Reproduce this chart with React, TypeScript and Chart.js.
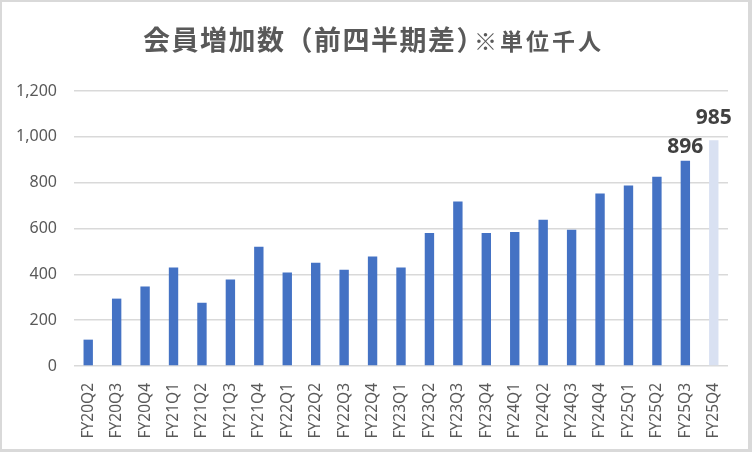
import React, { useEffect, useRef } from "react";
import { Chart, registerables } from "chart.js";

Chart.register(...registerables);

const categories = [
  "FY20Q2", "FY20Q3", "FY20Q4", "FY21Q1", "FY21Q2", "FY21Q3", "FY21Q4",
  "FY22Q1", "FY22Q2", "FY22Q3", "FY22Q4", "FY23Q1", "FY23Q2", "FY23Q3",
  "FY23Q4", "FY24Q1", "FY24Q2", "FY24Q3", "FY24Q4", "FY25Q1", "FY25Q2",
  "FY25Q3", "FY25Q4",
];
const memberIncrease = [
  115, 294, 347, 430, 276, 377, 520, 408, 451, 420, 478, 430, 580, 718,
  580, 585, 638, 595, 753, 788, 826, 896, 985,
];
const labeledIndexes = [21, 22];
const titleMain = "会員増加数（前四半期差）";
const titleSub = "※単位千人";
const yTicks = [0, 200, 400, 600, 800, 1000, 1200];

const BAR = "#4472C4";
const BAR_LIGHT = "#D9E1F2";
const TEXT = "#595959";
const GRID = "#D9D9D9";

const framePlugin = {
  id: "frame",
  afterDraw(chart: any) {
    const { ctx, width, height } = chart;
    ctx.save();
    ctx.fillStyle = GRID;
    ctx.fillRect(0, 0, width, 2);
    ctx.fillRect(0, 0, 2, height);
    ctx.fillRect(width - 4, 0, 4, height);
    ctx.fillRect(0, height - 3, width, 3);
    ctx.restore();
  },
};

const titlePlugin = {
  id: "twoPartTitle",
  afterDraw(chart: any) {
    const { ctx, width } = chart;
    ctx.save();
    ctx.fillStyle = TEXT;
    ctx.textBaseline = "alphabetic";
    ctx.textAlign = "left";
    const x0 = width / 2 - 233;
    ctx.font = 'bold 27px "Noto Sans CJK JP"';
    (ctx as any).letterSpacing = "1.5px";
    ctx.fillText(titleMain, x0, 50);
    ctx.font = 'bold 23px "Noto Sans CJK JP"';
    (ctx as any).letterSpacing = "3px";
    ctx.fillText(titleSub, x0 + 331, 50);
    (ctx as any).letterSpacing = "0px";
    ctx.restore();
  },
};

const valueLabelPlugin = {
  id: "valueLabels",
  afterDatasetsDraw(chart: any) {
    const { ctx } = chart;
    const meta = chart.getDatasetMeta(0);
    const ds = chart.data.datasets[0];
    ctx.save();
    ctx.font = 'bold 21px "Noto Sans"';
    ctx.fillStyle = "#404040";
    ctx.textAlign = "center";
    ctx.textBaseline = "alphabetic";
    labeledIndexes.forEach((i, k) => {
      const el = meta.data[i];
      if (!el) return;
      const gap = k === labeledIndexes.length - 1 ? 16 : 8;
      ctx.fillText(String(ds.data[i]), el.x, el.y - gap);
    });
    ctx.restore();
  },
};

export default function App() {
  const ref = useRef<HTMLCanvasElement>(null);
  useEffect(() => {
    document.body.style.margin = "0";
    const canvas = ref.current;
    if (!canvas) return;
    const chart = new Chart(canvas, {
      type: "bar",
      data: {
        labels: categories,
        datasets: [
          {
            data: memberIncrease,
            backgroundColor: memberIncrease.map((_, i) =>
              i === memberIncrease.length - 1 ? BAR_LIGHT : BAR
            ),
            borderWidth: 0,
            barPercentage: 0.33,
            categoryPercentage: 1,
          },
        ],
      },
      options: {
        animation: false,
        responsive: false,
        devicePixelRatio: 1,
        layout: { padding: { top: 91, right: 24, left: 0, bottom: 0 } },
        plugins: {
          legend: { display: false },
          title: { display: false },
          tooltip: { enabled: false },
        },
        scales: {
          x: {
            grid: { display: false },
            border: { display: false },
            ticks: {
              color: TEXT,
              font: { family: "Noto Sans", size: 15.5 },
              minRotation: 90,
              maxRotation: 90,
              padding: 9,
              autoSkip: false,
            },
            afterFit(scale: any) {
              scale.height = 86;
            },
          },
          y: {
            min: 0,
            max: 1200,
            afterBuildTicks(scale: any) {
              scale.ticks = yTicks.map((v) => ({ value: v }));
            },
            grid: { color: GRID, lineWidth: 1.4, drawTicks: false },
            border: { display: false },
            ticks: {
              color: TEXT,
              font: { family: "Noto Sans", size: 16 },
              padding: 17,
              callback: (v: any) => Number(v).toLocaleString("en-US"),
            },
            afterFit(scale: any) {
              scale.width = 74;
            },
          },
        },
      },
      plugins: [titlePlugin, valueLabelPlugin, framePlugin],
    });
    return () => chart.destroy();
  }, []);
  return (
    <div style={{ width: 752, height: 452, background: "#fff" }}>
      <canvas ref={ref} width={752} height={452} style={{ display: "block" }} />
    </div>
  );
}
